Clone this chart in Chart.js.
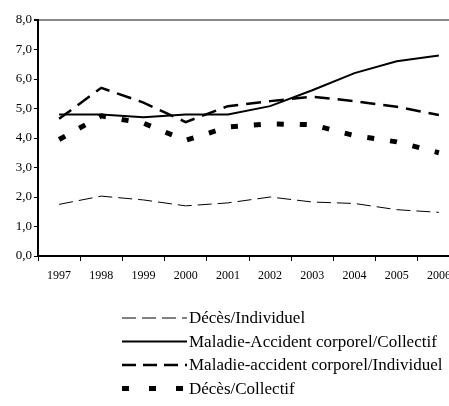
<!DOCTYPE html>
<html>
<head>
<meta charset="utf-8">
<script src="https://cdn.jsdelivr.net/npm/chart.js@4"></script>
<style>
  html, body { margin: 0; padding: 0; background: #fff; overflow: hidden; }
  #wrap { width: 449px; height: 406px; overflow: hidden; }
</style>
</head>
<body>
<div id="wrap"><canvas id="myChart" width="472" height="406"></canvas></div>
<script>
// Années (axe X)
const years = ["1997", "1998", "1999", "2000", "2001", "2002", "2003", "2004", "2005", "2006"];

// Séries
const decesIndividuel = [1.75, 2.03, 1.9, 1.7, 1.8, 2.0, 1.83, 1.78, 1.57, 1.48];
const maladieCollectif = [4.8, 4.8, 4.7, 4.8, 4.8, 5.08, 5.62, 6.2, 6.6, 6.8];
const maladieIndividuel = [4.65, 5.7, 5.2, 4.54, 5.08, 5.25, 5.4, 5.25, 5.06, 4.78];
const decesCollectif = [3.95, 4.75, 4.5, 3.92, 4.37, 4.48, 4.45, 4.08, 3.87, 3.5];

const seriesLabels = [
  "Décès/Individuel",
  "Maladie-Accident corporel/Collectif",
  "Maladie-accident corporel/Individuel",
  "Décès/Collectif",
];

const serif = "'Liberation Serif', 'Times New Roman', serif";

// Légende dessinée sous le graphique, en colonne
const columnLegend = {
  id: "columnLegend",
  afterDraw(chart) {
    const c = chart.ctx;
    const x0 = 122, x1 = 187, top = 318, step = 23.5;
    chart.data.datasets.forEach((ds, i) => {
      const y = top + i * step;
      c.save();
      c.strokeStyle = ds.borderColor;
      c.lineWidth = ds.borderWidth;
      c.setLineDash(ds.legendDash || ds.borderDash || []);
      c.beginPath();
      c.moveTo(x0, y);
      c.lineTo(x1, y);
      c.stroke();
      c.restore();
      c.save();
      c.fillStyle = "#000";
      c.font = "17px " + serif;
      c.textBaseline = "middle";
      c.fillText(ds.label, x1 + 2, y + 1);
      c.restore();
    });
  },
};

const ctx = document.getElementById("myChart");
const myChart = new Chart(ctx, {
  type: "line",
  data: {
    labels: years,
    datasets: [
      {
        label: seriesLabels[0],
        data: decesIndividuel,
        borderColor: "#000",
        borderWidth: 1,
        borderDash: [14, 6],
      },
      {
        label: seriesLabels[1],
        data: maladieCollectif,
        borderColor: "#000",
        borderWidth: 2,
      },
      {
        label: seriesLabels[2],
        data: maladieIndividuel,
        borderColor: "#000",
        borderWidth: 2.5,
        borderDash: [15, 8],
        legendDash: [14, 7],
      },
      {
        label: seriesLabels[3],
        data: decesCollectif,
        borderColor: "#000",
        borderWidth: 5,
        borderDash: [7, 16],
        legendDash: [7, 20],
      },
    ],
  },
  options: {
    responsive: false,
    animation: false,
    layout: { padding: { top: 20, right: 12, bottom: 120, left: 0 } },
    elements: {
      point: { radius: 0 },
      line: { tension: 0, borderCapStyle: "butt" },
    },
    plugins: {
      legend: { display: false },
      tooltip: { enabled: false },
    },
    scales: {
      x: {
        offset: true,
        grid: {
          offset: true,
          drawOnChartArea: false,
          tickLength: 5,
          tickColor: "#000",
        },
        border: { color: "#000", width: 2 },
        ticks: {
          color: "#000",
          font: { family: serif, size: 12 },
          maxRotation: 0,
          autoSkip: false,
          padding: 8,
        },
        afterFit(scale) { scale.height = 30; },
      },
      y: {
        min: 0,
        max: 8,
        ticks: {
          stepSize: 1,
          color: "#000",
          font: { family: serif, size: 13 },
          padding: 2,
          callback: (v) => v.toFixed(1).replace(".", ","),
        },
        grid: {
          color: (c) => (c.tick && c.tick.value === 8 ? "#888" : "rgba(0,0,0,0)"),
          lineWidth: (c) => (c.tick && c.tick.value === 8 ? 2 : 1),
          tickColor: "#000",
          tickLength: 4,
        },
        border: { color: "#000", width: 2 },
        afterFit(scale) { scale.width = 38; },
      },
    },
  },
  plugins: [columnLegend],
});
</script>
</body>
</html>
